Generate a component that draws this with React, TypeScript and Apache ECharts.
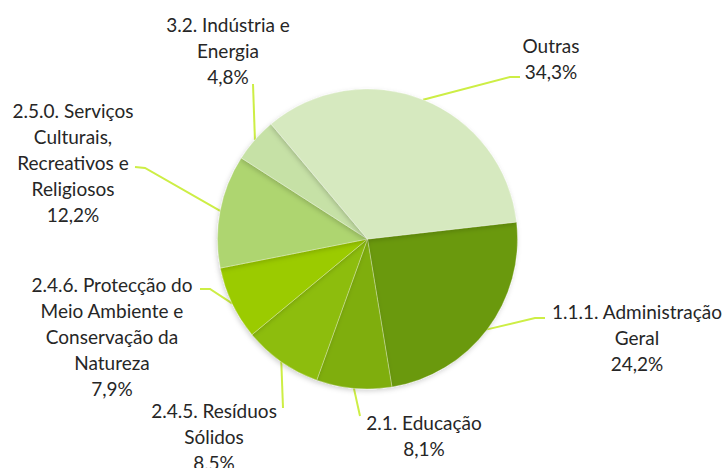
import React, { useEffect, useRef } from 'react';
import * as echarts from 'echarts';

const categories = [
  '1.1.1. Administração\nGeral',
  '2.1. Educação',
  '2.4.5. Resíduos\nSólidos',
  '2.4.6. Protecção do\nMeio Ambiente e\nConservação da\nNatureza',
  '2.5.0. Serviços\nCulturais,\nRecreativos e\nReligiosos',
  '3.2. Indústria e\nEnergia',
  'Outras',
];
const values = [24.2, 8.1, 8.5, 7.9, 12.2, 4.8, 34.3];
const colors = ['#6a990a', '#7fae10', '#8dbd0c', '#9bcb02', '#aed56f', '#c6e1a6', '#d6e9bf'];

// label block centres and leader line end / bend points (layout only)
const labelPlacement: { x: number; y: number; end: number[]; bend?: number[] }[] = [
  { x: 637, y: 337, end: [545, 318], bend: [535, 318] },
  { x: 424, y: 435, end: [360, 416] },
  { x: 214, y: 436, end: [283, 408] },
  { x: 112, y: 336, end: [200, 289], bend: [210, 289] },
  { x: 73, y: 162, end: [135, 167], bend: [145, 168] },
  { x: 228, y: 50, end: [253, 84] },
  { x: 551, y: 58, end: [520, 77], bend: [510, 77] },
];

export default function App() {
  const ref = useRef<HTMLDivElement>(null);
  useEffect(() => {
    document.body.style.margin = '0';
    const chart = echarts.init(ref.current!, null, { renderer: 'svg' });
    chart.setOption({
      animation: false,
      backgroundColor: '#ffffff',
      series: [
        {
          type: 'pie',
          center: [367.5, 239],
          radius: [0, 150],
          startAngle: 6.5,
          clockwise: true,
          avoidLabelOverlap: false,
          data: categories.map((name, i) => ({
            name,
            value: values[i],
            itemStyle: { color: colors[i] },
          })),
          itemStyle: {
            borderColor: 'rgba(255,255,255,0.45)',
            borderWidth: 0.6,
            shadowColor: 'rgba(0,0,0,0.18)',
            shadowBlur: 5,
            shadowOffsetX: -1,
            shadowOffsetY: 2,
          },
          label: {
            show: true,
            position: 'outside',
            formatter: (p: any) => `${p.name}\n${p.value.toFixed(1).replace('.', ',')}%`,
            fontFamily: 'Lato',
            fontSize: 19,
            lineHeight: 26,
            color: '#262626',
            align: 'center',
          },
          labelLine: {
            show: true,
            length: 20,
            length2: 10,
            lineStyle: { color: '#cdee45', width: 2 },
          },
          labelLayout: (params: any) => {
            const pl = labelPlacement[params.dataIndex];
            const start = params.labelLinePoints ? params.labelLinePoints[0] : pl.end;
            const pts = pl.bend ? [start, pl.bend, pl.end] : [start, pl.end];
            return {
              x: pl.x,
              y: pl.y,
              align: 'center',
              verticalAlign: 'middle',
              labelLinePoints: pts,
            };
          },
        },
      ],
    });
    return () => chart.dispose();
  }, []);
  return <div ref={ref} style={{ width: 728, height: 468 }} />;
}
